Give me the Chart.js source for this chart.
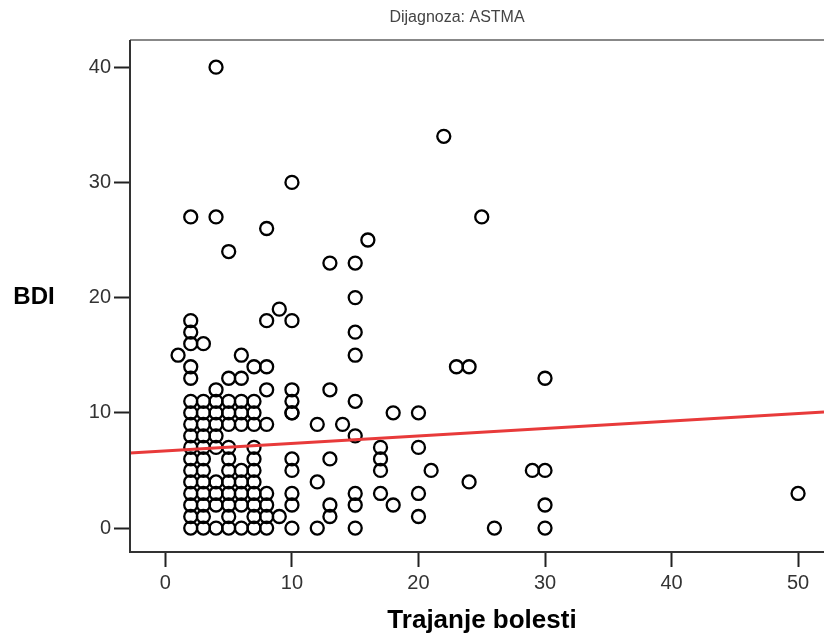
<!DOCTYPE html>
<html>
<head>
<meta charset="utf-8">
<script src="https://cdn.jsdelivr.net/npm/chart.js@4.4.1/dist/chart.umd.min.js"></script>
<style>
  html, body { margin: 0; padding: 0; background: #fff; }
  #wrap { width: 824px; height: 636px; }
</style>
</head>
<body>
<div id="wrap"><canvas id="scatter" width="824" height="636"></canvas></div>
<script>
// Trajanje bolesti (x) i BDI (y), očitano s grafa, po stupcima
const trajanje = [
  1,
  2,2,2,2,2,2,2,2,2,2,2,2,2,2,2,2,2,2,
  3,3,3,3,3,3,3,3,3,3,3,3,3,
  4,4,4,4,4,4,4,4,4,4,4,4,
  5,5,5,5,5,5,5,5,5,5,5,5,5,
  6,6,6,6,6,6,6,6,6,6,
  7,7,7,7,7,7,7,7,7,7,7,7,
  8,8,8,8,8,8,8,8,8,
  9,9,
  10,10,10,10,10,10,10,10,10,10,10,
  12,12,12,
  13,13,13,13,13,
  14,
  15,15,15,15,15,15,15,15,15,
  16,
  17,17,17,17,
  18,18,
  20,20,20,20,
  21, 22, 23, 24,24, 25, 26, 29,
  30,30,30,30,
  50
];
const bdi = [
  15,
  0,1,2,3,4,5,6,7,8,9,10,11,13,14,16,17,18,27,
  0,1,2,3,4,5,6,7,8,9,10,11,16,
  0,2,3,4,7,8,9,10,11,12,27,40,
  0,1,2,3,4,5,6,7,9,10,11,13,24,
  0,2,3,4,5,9,10,11,13,15,
  0,1,2,3,4,5,6,7,9,10,11,14,
  0,1,2,3,9,12,14,18,26,
  1,19,
  0,2,3,5,6,10,10,11,12,18,30,
  0,4,9,
  1,2,6,12,23,
  9,
  0,2,3,8,11,15,17,20,23,
  25,
  3,5,6,7,
  2,10,
  1,3,7,10,
  5, 34, 14, 4,14, 27, 0, 5,
  0,2,5,13,
  3
];

// linija regresije (očitano)
const fitIntercept = 6.70;
const fitSlope = 0.0646;

const xTicks = [0, 10, 20, 30, 40, 50];
const yTicks = [0, 10, 20, 30, 40];
const xMin = -2.8, xMax = 52.05;
const yMin = -2.08, yMax = 42.36;

const sans = "'Liberation Sans', Arial, sans-serif";

const points = trajanje.map((t, i) => ({ x: t, y: bdi[i] }));
const fitLine = [
  { x: xMin, y: fitIntercept + fitSlope * xMin },
  { x: xMax, y: fitIntercept + fitSlope * xMax }
];

const decorPlugin = {
  id: 'decor',
  afterDraw(chart) {
    const c = chart.ctx;
    const a = chart.chartArea;
    c.save();
    // okvir
    c.strokeStyle = '#888';
    c.lineWidth = 2;
    c.beginPath();
    c.moveTo(a.left, a.top);
    c.lineTo(a.right, a.top);
    c.stroke();
    c.strokeStyle = '#333';
    c.beginPath();
    c.moveTo(a.left, a.top);
    c.lineTo(a.left, a.bottom);
    c.lineTo(a.right, a.bottom);
    c.stroke();
    // naslovi
    c.fillStyle = '#444';
    c.font = "16px " + sans;
    c.textAlign = 'center';
    c.textBaseline = 'middle';
    c.fillText('Dijagnoza: ASTMA', 457, 18);
    c.fillStyle = '#000';
    c.font = "bold 26px " + sans;
    c.fillText('Trajanje bolesti', 482, 621);
    c.font = "bold 24px " + sans;
    c.fillText('BDI', 34, 297);
    c.restore();
  }
};

const ctx = document.getElementById('scatter').getContext('2d');

const chart = new Chart(ctx, {
  type: 'scatter',
  data: {
    datasets: [
      {
        type: 'line',
        label: 'Fit',
        data: fitLine,
        borderColor: '#e83a3a',
        borderWidth: 3,
        pointRadius: 0,
        fill: false,
        order: 0
      },
      {
        label: 'BDI',
        data: points,
        pointStyle: 'circle',
        pointRadius: 6.5,
        pointBorderWidth: 2.3,
        borderColor: '#000',
        backgroundColor: 'rgba(0,0,0,0)',
        order: 1
      }
    ]
  },
  options: {
    responsive: false,
    animation: false,
    layout: { autoPadding: false, padding: { top: 40, right: 0, left: 0, bottom: 0 } },
    scales: {
      x: {
        type: 'linear',
        min: xMin,
        max: xMax,
        afterFit(s) { s.height = 84; s.paddingLeft = 0; s.paddingRight = 0; },
        afterBuildTicks(s) { s.ticks = xTicks.map(v => ({ value: v })); },
        grid: {
          drawOnChartArea: false,
          drawTicks: true,
          tickLength: 15,
          tickColor: '#222',
          tickWidth: 2
        },
        border: { display: false },
        ticks: {
          color: '#333',
          font: { size: 20, family: sans },
          padding: 4,
          maxRotation: 0
        }
      },
      y: {
        type: 'linear',
        min: yMin,
        max: yMax,
        afterFit(s) { s.width = 130; s.paddingTop = 0; s.paddingBottom = 0; },
        afterBuildTicks(s) { s.ticks = yTicks.map(v => ({ value: v })); },
        grid: {
          drawOnChartArea: false,
          drawTicks: true,
          tickLength: 16,
          tickColor: '#222',
          tickWidth: 2
        },
        border: { display: false },
        ticks: {
          color: '#333',
          font: { size: 20, family: sans },
          padding: 3
        }
      }
    },
    plugins: {
      legend: { display: false },
      tooltip: { enabled: false },
      title: { display: false }
    }
  },
  plugins: [decorPlugin]
});
</script>
</body>
</html>
